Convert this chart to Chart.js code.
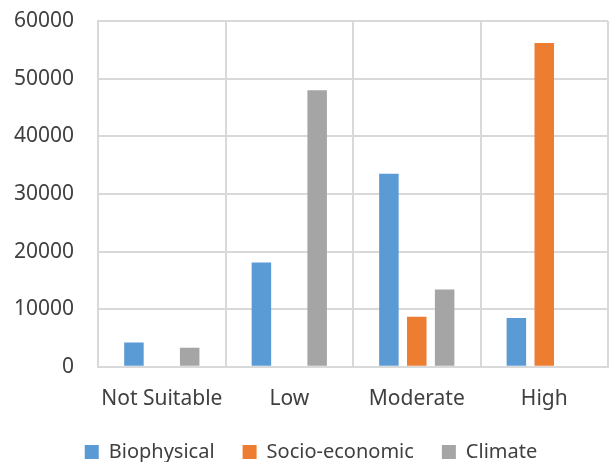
<!DOCTYPE html>
<html>
<head>
<meta charset="utf-8">
<script src="https://cdn.jsdelivr.net/npm/chart.js@4/dist/chart.umd.min.js"></script>
<style>
  html, body { margin: 0; padding: 0; background: #fff; }
  #wrap { position: relative; width: 609px; height: 462px; }
</style>
</head>
<body>
<div id="wrap"><canvas id="chart"></canvas></div>
<script>
// categories and series
const categories = ['Not Suitable', 'Low', 'Moderate', 'High'];
const biophysical = [4200, 18100, 33500, 8450];
const socioEconomic = [null, null, 8700, 56200];
const climate = [3300, 48000, 13400, null];

const GRID = '#d9d9d9';
const TEXT = '#404040';
const FONT = '"Noto Sans", sans-serif';

Chart.defaults.font.family = FONT;
Chart.defaults.color = TEXT;

// nudge the legend a little to the right, like the original
const legendShift = {
    id: 'legendShift',
    afterLayout(chart) {
        const lg = chart.legend;
        if (!lg) return;
        lg.left += 12;
        lg.right += 12;
    }
};

new Chart(document.getElementById('chart'), {
    type: 'bar',
    data: {
        labels: categories,
        datasets: [
            { label: 'Biophysical', data: biophysical, backgroundColor: '#5B9BD5' },
            { label: 'Socio-economic', data: socioEconomic, backgroundColor: '#ED7D31' },
            { label: 'Climate', data: climate, backgroundColor: '#A5A5A5' }
        ]
    },
    plugins: [legendShift],
    options: {
        responsive: true,
        maintainAspectRatio: false,
        animation: false,
        datasets: { bar: { categoryPercentage: 0.656, barPercentage: 0.7 } },
        layout: { padding: { top: 0, right: 1, left: -10, bottom: -10 } },
        plugins: {
            tooltip: { enabled: false },
            legend: {
                position: 'bottom',
                labels: {
                    boxWidth: 14, boxHeight: 14,
                    padding: 28,
                    font: { size: 20 }, color: TEXT
                }
            }
        },
        scales: {
            x: {
                grid: { color: GRID, lineWidth: 2, drawTicks: false, offset: true },
                border: { color: GRID, width: 2 },
                ticks: {
                    font: { size: 21 }, color: TEXT, padding: 20,
                    autoSkip: false, maxRotation: 0, minRotation: 0
                },
                // pull the legend up closer to the category labels
                afterFit: s => { s.height -= 18; }
            },
            y: {
                min: 0, max: 60000,
                grid: { color: GRID, lineWidth: 2, drawTicks: false },
                border: { color: GRID, width: 2 },
                ticks: {
                    stepSize: 10000, font: { size: 21, lineHeight: 1 }, color: TEXT, padding: 24,
                    callback: v => String(v)
                },
                afterFit: s => { s.paddingTop = 21; }
            }
        }
    }
});
</script>
</body>
</html>
